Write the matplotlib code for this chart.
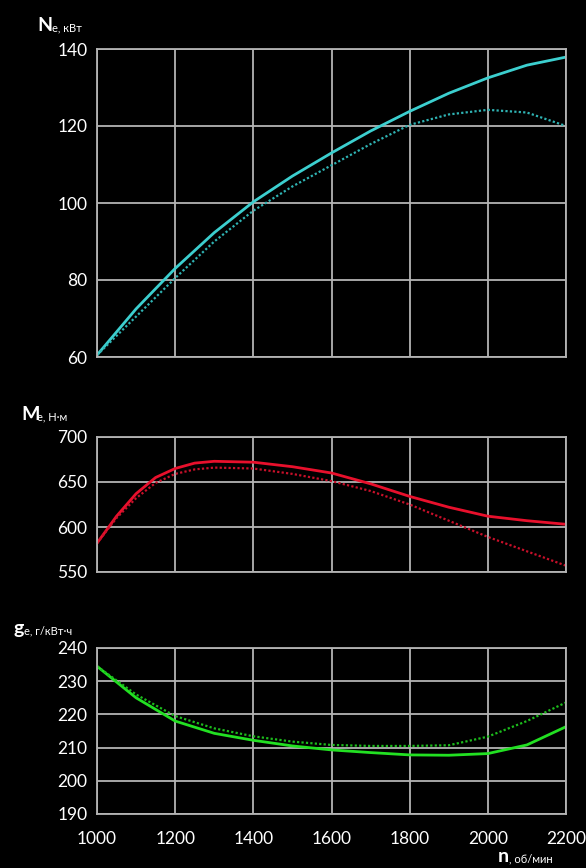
import matplotlib
matplotlib.use("Agg")
import matplotlib.pyplot as plt

# обороты, об/мин
n = [1000, 1100, 1200, 1300, 1400, 1500, 1600, 1700, 1800, 1900, 2000, 2100, 2200]

# мощность Ne, кВт
ne_solid = [60.5, 72.5, 83, 92.3, 100.3, 107, 113, 118.7, 123.8, 128.5, 132.5, 135.8, 137.9]
ne_dot = [60.5, 70.5, 80.5, 90, 98, 104.3, 109.8, 115.3, 120.3, 123, 124.2, 123.5, 120]

# момент Me, Н·м
n_m = [1000, 1050, 1100, 1150, 1200, 1250, 1300, 1400, 1500, 1600, 1700, 1800, 1900, 2000, 2100, 2200]
me_solid = [582, 612, 637, 655, 665, 671, 673, 672, 667, 660, 648, 634, 622, 612, 607, 603]
me_dot = [582, 610, 632, 649, 659, 664, 666, 665, 659, 651, 640, 625, 607, 589, 573, 557]

# удельный расход ge, г/кВт·ч
ge_solid = [234.5, 225, 218, 214.3, 212.2, 210.5, 209.3, 208.5, 207.8, 207.7, 208.2, 210.8, 216.3]
ge_dot = [234.5, 226, 219.5, 215.8, 213.4, 211.8, 210.8, 210.5, 210.5, 210.7, 213.3, 218, 223.6]

W, H = 586, 868
fig = plt.figure(figsize=(W / 100, H / 100), dpi=100, facecolor="black")

def make_ax(top, bottom):
    return fig.add_axes([97 / W, 1 - bottom / H, 469 / W, (bottom - top) / H])

grid_col = "#b4b4b4"
font = "Lato"

def style(ax, ylim, yticks, show_x):
    ax.set_facecolor("black")
    ax.set_xlim(1000, 2200)
    ax.set_ylim(*ylim)
    ax.set_yticks(yticks)
    ax.set_xticks(range(1000, 2201, 200))
    ax.grid(True, color=grid_col, lw=1.3)
    for s in ax.spines.values():
        s.set_color(grid_col)
        s.set_linewidth(1.3)
    ax.tick_params(length=0, colors="white", labelsize=12.5, pad=7)
    for lab in ax.get_yticklabels() + ax.get_xticklabels():
        lab.set_fontfamily(font)
    if not show_x:
        ax.set_xticklabels([])

ax1 = make_ax(49, 357)
ax1.plot(n, ne_solid, color="#3ccfcf", lw=2)
ax1.plot(n, ne_dot, color="#2fb3b3", lw=1.6, ls=(0, (1, 1)))
style(ax1, (60, 140), range(60, 141, 20), False)

ax2 = make_ax(437, 572)
ax2.plot(n_m, me_solid, color="#e8102c", lw=2)
ax2.plot(n_m, me_dot, color="#c8102a", lw=1.6, ls=(0, (1, 1)))
style(ax2, (550, 700), range(550, 701, 50), False)

ax3 = make_ax(648, 814)
ax3.plot(n, ge_solid, color="#22e022", lw=2)
ax3.plot(n, ge_dot, color="#1cbc1c", lw=1.6, ls=(0, (1, 1)))
style(ax3, (190, 240), range(190, 241, 10), True)
ax3.tick_params(axis="x", pad=12)

# подписи осей
def label(x, y, big, dx, small):
    fig.text(x / W, 1 - y / H, big, color="white", fontsize=14,
             fontweight="bold", family=font, va="baseline")
    fig.text((x + dx) / W, 1 - y / H, small, color="white", fontsize=8,
             family=font, va="baseline")

label(37, 31, "N", 15, "e, кВт")
label(21, 420, "M", 16, "e, Н·м")
label(13, 634, "g", 11, "e, г/кВт·ч")
label(498, 862, "n", 11, ", об/мин")

fig.savefig("out.png", dpi=100, facecolor="black")
